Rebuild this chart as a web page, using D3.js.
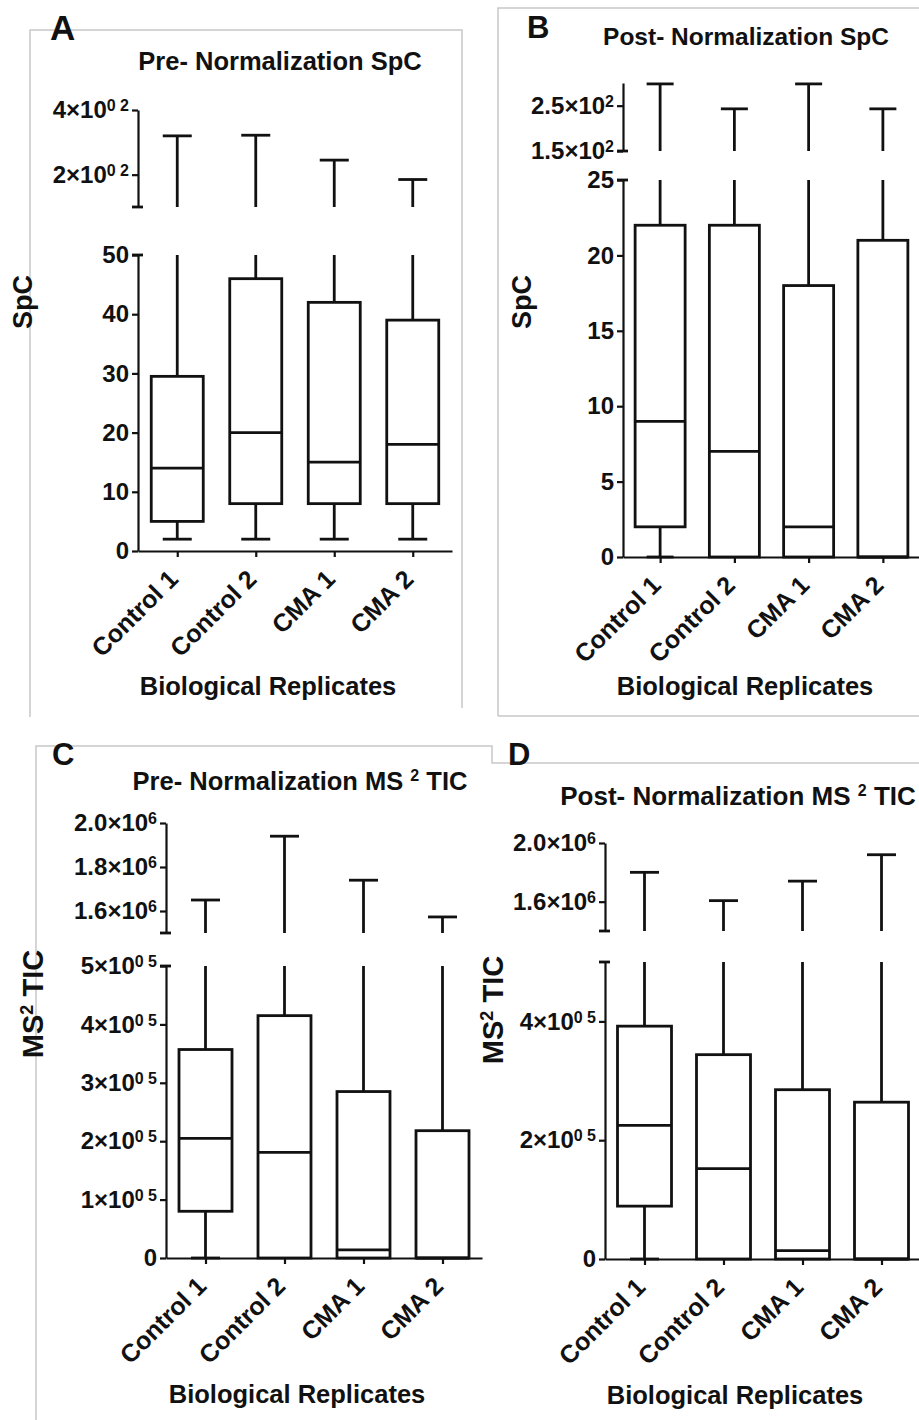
<!DOCTYPE html>
<html>
<head>
<meta charset="utf-8">
<script src="https://cdn.jsdelivr.net/npm/d3@7"></script>
<style>
  body { margin: 0; background: #fff; }
  svg { display: block; font-family: "Liberation Sans", Arial, sans-serif; font-weight: bold; fill: #111; }
  .frame { fill: none; stroke: #c8c8c8; stroke-width: 1.5; }
  .axis path, .axis line { stroke: #111; stroke-width: 2.2; }
  .mark { fill: none; stroke: #111; stroke-width: 2.8; }
</style>
</head>
<body>
<svg width="919" height="1420"></svg>
<script>
const categories = ["Control 1", "Control 2", "CMA 1", "CMA 2"]

// A - spectral counts before normalization
const spcPreMin = [2, 2, 2, 2]
const spcPreQ1 = [5, 8, 8, 8]
const spcPreMedian = [14, 20, 15, 18]
const spcPreQ3 = [29.5, 46, 42, 39]
const spcPreMax = [320, 322, 245, 185]
const spcPreLowerDomain = [0, 50]
const spcPreUpperDomain = [100, 400]
const spcPreLowerTicks = [0, 10, 20, 30, 40, 50]
const spcPreLowerLabels = ["0", "10", "20", "30", "40", "50"]
const spcPreUpperTicks = [200, 400]
const spcPreUpperLabels = ["2×10^0 2", "4×10^0 2"]

// B - spectral counts after normalization
const spcPostMin = [0, 0, 0, 0]
const spcPostQ1 = [2, 0, 0, 0]
const spcPostMedian = [9, 7, 2, 0]
const spcPostQ3 = [22, 22, 18, 21]
const spcPostMax = [298, 243, 298, 243]
const spcPostLowerDomain = [0, 25]
const spcPostUpperDomain = [150, 300]
const spcPostLowerTicks = [0, 5, 10, 15, 20, 25]
const spcPostLowerLabels = ["0", "5", "10", "15", "20", "25"]
const spcPostUpperTicks = [150, 250]
const spcPostUpperLabels = ["1.5×10^2", "2.5×10^2"]

// C - MS2 TIC before normalization
const ticPreMin = [0, 0, 0, 0]
const ticPreQ1 = [80000, 0, 0, 0]
const ticPreMedian = [205000, 181000, 14000, 0]
const ticPreQ3 = [357000, 415000, 285000, 218000]
const ticPreMax = [1650000, 1940000, 1740000, 1573000]
const ticPreLowerDomain = [0, 500000]
const ticPreUpperDomain = [1500000, 2000000]
const ticPreLowerTicks = [0, 100000, 200000, 300000, 400000, 500000]
const ticPreLowerLabels = ["0", "1×10^0 5", "2×10^0 5", "3×10^0 5", "4×10^0 5", "5×10^0 5"]
const ticPreUpperTicks = [1600000, 1800000, 2000000]
const ticPreUpperLabels = ["1.6×10^6", "1.8×10^6", "2.0×10^6"]

// D - MS2 TIC after normalization
const ticPostMin = [0, 0, 0, 0]
const ticPostQ1 = [89000, 0, 0, 0]
const ticPostMedian = [225000, 152000, 14000, 0]
const ticPostQ3 = [392000, 344000, 285000, 264000]
const ticPostMax = [1800000, 1607000, 1740000, 1920000]
const ticPostLowerDomain = [0, 500000]
const ticPostUpperDomain = [1400000, 2000000]
const ticPostLowerTicks = [0, 200000, 400000]
const ticPostLowerLabels = ["0", "2×10^0 5", "4×10^0 5"]
const ticPostUpperTicks = [1600000, 2000000]
const ticPostUpperLabels = ["1.6×10^6", "2.0×10^6"]

const FONT = '"Liberation Sans", Arial, sans-serif'
const svg = d3.select("svg")

// panel frames
svg.append("path").attr("class", "frame").attr("d", "M30,717V30H462V708")
svg.append("path").attr("class", "frame").attr("d", "M498,716V8H919M498,716H919")
svg.append("path").attr("class", "frame").attr("d", "M36,1420V746H492V763H919")

// text with ^superscript^ parts
function richText(sel, str, supSize, rise) {
  sel.text(null)
  let raised = false
  str.split("^").forEach((part, i) => {
    if (!part) return
    const sup = i % 2 === 1
    const t = sel.append("tspan").text(part)
    if (sup) t.attr("font-size", supSize)
    if (sup !== raised) {
      t.attr("dy", sup ? -rise : rise)
      raised = sup
    }
  })
}

function drawPanel(p) {
  const g = svg.append("g")
  const lower = d3.scaleLinear().domain(p.lowerDomain).range(p.lowerRange)
  const upper = d3.scaleLinear().domain(p.upperDomain).range(p.upperRange)
  const x = d3.scalePoint().domain(categories).range([p.axisX, p.axisEnd]).padding(0.5)

  const segments = [[lower, p.lowerTicks, p.lowerLabels], [upper, p.upperTicks, p.upperLabels]]
  segments.forEach(([scale, ticks, labels]) => {
    const ax = g.append("g").attr("class", "axis")
      .attr("transform", `translate(${p.axisX},0)`)
      .call(d3.axisLeft(scale).tickValues(ticks).tickSize(6).tickSizeOuter(0).tickPadding(3))
      .attr("font-size", 24).attr("font-family", FONT).attr("color", "#111")
    ax.selectAll(".tick text").each(function (d, i) {
      richText(d3.select(this), labels[i], 16, 7)
    })
  })

  // little caps where the axis is broken
  const caps = [lower(p.lowerDomain[1]), upper(p.upperDomain[0])]
  g.selectAll(".brk").data(caps).enter().append("line")
    .attr("class", "mark").attr("stroke-width", 2.2)
    .attr("x1", p.axisX - 6).attr("x2", p.axisX + 5)
    .attr("y1", d => d).attr("y2", d => d)

  const xa = g.append("g").attr("class", "axis")
    .attr("transform", `translate(0,${p.lowerRange[0]})`)
    .call(d3.axisBottom(x).tickSize(6).tickSizeOuter(0))
    .attr("font-size", 25).attr("font-family", FONT).attr("color", "#111")
  xa.selectAll(".tick text")
    .attr("y", null).attr("dy", "0.72em")
    .attr("text-anchor", "end")
    .attr("transform", "translate(-11,17) rotate(-45)")

  const rows = categories.map((c, i) => ({
    cat: c, min: p.min[i], q1: p.q1[i], med: p.median[i], q3: p.q3[i], max: p.max[i]
  }))
  const hw = p.boxW / 2, cw = p.capW / 2
  const box = g.selectAll(".bx").data(rows).enter().append("g")

  // whisker above the break
  box.append("line").attr("class", "mark")
    .attr("x1", d => x(d.cat)).attr("x2", d => x(d.cat))
    .attr("y1", upper(p.upperDomain[0])).attr("y2", d => upper(d.max))
  box.append("line").attr("class", "mark")
    .attr("x1", d => x(d.cat) - cw).attr("x2", d => x(d.cat) + cw)
    .attr("y1", d => upper(d.max)).attr("y2", d => upper(d.max))
  // whisker below the break
  box.append("line").attr("class", "mark")
    .attr("x1", d => x(d.cat)).attr("x2", d => x(d.cat))
    .attr("y1", d => lower(d.q3)).attr("y2", lower(p.lowerDomain[1]))
  // lower whisker
  const low = box.filter(d => d.q1 > d.min)
  low.append("line").attr("class", "mark")
    .attr("x1", d => x(d.cat)).attr("x2", d => x(d.cat))
    .attr("y1", d => lower(d.q1)).attr("y2", d => lower(d.min))
  low.append("line").attr("class", "mark")
    .attr("x1", d => x(d.cat) - cw).attr("x2", d => x(d.cat) + cw)
    .attr("y1", d => lower(d.min)).attr("y2", d => lower(d.min))
  box.append("rect").attr("class", "mark").attr("fill", "#fff")
    .attr("x", d => x(d.cat) - hw).attr("width", p.boxW)
    .attr("y", d => lower(d.q3)).attr("height", d => lower(d.q1) - lower(d.q3))
  box.append("line").attr("class", "mark")
    .attr("x1", d => x(d.cat) - hw).attr("x2", d => x(d.cat) + hw)
    .attr("y1", d => lower(d.med)).attr("y2", d => lower(d.med))

  // texts
  g.append("text").attr("x", p.letter[0]).attr("y", p.letter[1])
    .attr("font-size", p.letterSize).text(p.name)
  richText(g.append("text").attr("x", p.title[0]).attr("y", p.title[1])
    .attr("text-anchor", "middle").attr("font-size", p.titleSize), p.titleText, 16, 9)
  g.append("text").attr("x", p.xTitle[0]).attr("y", p.xTitle[1])
    .attr("text-anchor", "middle").attr("font-size", 25.5).text("Biological Replicates")
  richText(g.append("text")
    .attr("transform", `translate(${p.yTitle[0]},${p.yTitle[1]}) rotate(-90)`)
    .attr("text-anchor", "middle").attr("font-size", p.yTitleSize), p.yTitleText, 18, 10)
}

drawPanel({
  name: "A", letter: [50, 40], letterSize: 35,
  titleText: "Pre- Normalization SpC", title: [280, 70], titleSize: 25.5,
  xTitle: [268, 695], yTitleText: "SpC", yTitle: [32, 302], yTitleSize: 27,
  axisX: 138, axisEnd: 452, lowerRange: [551, 255], upperRange: [207, 110],
  boxW: 52, capW: 29,
  lowerDomain: spcPreLowerDomain, upperDomain: spcPreUpperDomain,
  lowerTicks: spcPreLowerTicks, lowerLabels: spcPreLowerLabels,
  upperTicks: spcPreUpperTicks, upperLabels: spcPreUpperLabels,
  min: spcPreMin, q1: spcPreQ1, median: spcPreMedian, q3: spcPreQ3, max: spcPreMax
})

drawPanel({
  name: "B", letter: [527, 38], letterSize: 31,
  titleText: "Post- Normalization SpC", title: [746, 45], titleSize: 24.5,
  xTitle: [745, 695], yTitleText: "SpC", yTitle: [531, 302], yTitleSize: 27,
  axisX: 623, axisEnd: 920, lowerRange: [557, 180], upperRange: [151, 83],
  boxW: 50, capW: 27,
  lowerDomain: spcPostLowerDomain, upperDomain: spcPostUpperDomain,
  lowerTicks: spcPostLowerTicks, lowerLabels: spcPostLowerLabels,
  upperTicks: spcPostUpperTicks, upperLabels: spcPostUpperLabels,
  min: spcPostMin, q1: spcPostQ1, median: spcPostMedian, q3: spcPostQ3, max: spcPostMax
})

drawPanel({
  name: "C", letter: [52, 765], letterSize: 31,
  titleText: "Pre- Normalization MS ^2^ TIC", title: [300, 790], titleSize: 25.5,
  xTitle: [297, 1403], yTitleText: "MS^2^ TIC", yTitle: [43, 1004], yTitleSize: 29,
  axisX: 166, axisEnd: 482, lowerRange: [1258, 966], upperRange: [933, 823],
  boxW: 53, capW: 29,
  lowerDomain: ticPreLowerDomain, upperDomain: ticPreUpperDomain,
  lowerTicks: ticPreLowerTicks, lowerLabels: ticPreLowerLabels,
  upperTicks: ticPreUpperTicks, upperLabels: ticPreUpperLabels,
  min: ticPreMin, q1: ticPreQ1, median: ticPreMedian, q3: ticPreQ3, max: ticPreMax
})

drawPanel({
  name: "D", letter: [508, 765], letterSize: 31,
  titleText: "Post- Normalization MS ^2^ TIC", title: [738, 805], titleSize: 26,
  xTitle: [735, 1404], yTitleText: "MS^2^ TIC", yTitle: [503, 1010], yTitleSize: 29,
  axisX: 605, axisEnd: 921, lowerRange: [1259, 962], upperRange: [931, 843],
  boxW: 54, capW: 29,
  lowerDomain: ticPostLowerDomain, upperDomain: ticPostUpperDomain,
  lowerTicks: ticPostLowerTicks, lowerLabels: ticPostLowerLabels,
  upperTicks: ticPostUpperTicks, upperLabels: ticPostUpperLabels,
  min: ticPostMin, q1: ticPostQ1, median: ticPostMedian, q3: ticPostQ3, max: ticPostMax
})
</script>
</body>
</html>
